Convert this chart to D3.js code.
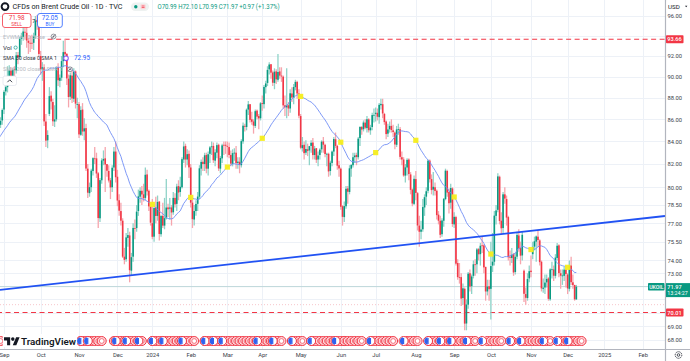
<!DOCTYPE html>
<html><head><meta charset="utf-8">
<script src="https://cdn.jsdelivr.net/npm/d3@7"></script>
<style>
html,body{margin:0;padding:0;background:#fff;overflow:hidden;}
svg{display:block;font-family:Roboto,"Noto Sans",Arial,sans-serif;}
</style></head><body>
<svg id="c" width="690" height="361"></svg>
<script>
// ---------------- DATA ----------------
// closes before the visible window (Jul 17 – Aug 29, 2023), used only for the SMA 30
const warmupCloses = [78.50,79.63,79.46,79.64,81.07,82.74,83.64,82.92,84.24,84.99,85.56,
  84.91,83.20,85.14,86.24,85.34,86.17,87.55,86.40,86.81,86.21,84.89,83.45,84.12,84.80,
  84.46,84.03,83.21,83.36,84.48,84.42,85.49];
// daily [open, high, low, close] per month
const aug2023 = [[85.5,86.2,85.2,85.86],[85.9,87.0,85.5,86.86]];
const sep2023 = [[86.9,88.7,86.5,88.55],[88.6,89.3,88.2,89.00],[89.0,91.0,88.5,90.04],[90.0,91.1,89.6,90.60],[90.6,90.9,89.2,89.92],
  [89.9,90.8,89.4,90.65],[90.7,91.0,89.8,90.64],[90.6,92.4,90.3,92.06],[92.1,92.4,91.2,91.88],[91.9,93.9,91.7,93.70],
  [93.7,94.3,93.1,93.93],[93.9,95.0,93.5,94.43],[94.4,95.3,93.6,94.34],[94.3,94.9,92.8,93.53],[93.5,93.8,92.2,93.30],
  [93.3,94.0,92.4,93.27],[93.3,94.1,92.7,93.29],[93.3,94.3,92.6,93.96],[94.0,96.0,93.7,95.55],[95.6,96.1,94.6,95.38],
  [95.4,95.6,92.0,92.20]];
const oct2023 = [[92.0,92.5,90.2,90.71],[90.7,91.4,89.6,90.92],[90.9,91.2,85.4,85.81],[85.8,86.5,83.5,84.07],[84.1,85.0,83.4,84.58],
  [86.5,89.0,86.3,88.15],[88.2,88.6,86.9,87.65],[87.6,87.9,85.4,85.82],[85.8,87.3,85.3,86.00],[86.0,91.0,85.8,90.89],
  [90.9,91.3,89.1,89.65],[89.6,90.2,89.0,89.90],[89.9,92.0,89.6,91.50],[91.5,93.5,90.9,92.38],[92.4,93.66,91.7,92.16],
  [92.2,92.3,89.2,89.83],[89.8,90.2,87.1,88.07],[88.1,90.4,87.8,90.13],[90.1,90.6,87.5,87.93],[87.9,90.8,87.6,90.48],
  [90.5,90.6,87.0,87.45],[87.4,88.0,86.1,87.41]];
const nov2023 = [[87.4,87.6,84.3,84.63],[84.6,87.2,84.5,86.85],[86.9,87.5,84.5,84.89],[84.9,86.1,84.1,85.18],[85.2,85.6,81.4,81.61],
  [81.6,82.0,79.1,79.54],[79.5,80.4,79.2,80.01],[80.0,81.6,79.6,81.43],[81.4,82.6,81.0,82.52],[82.5,83.5,82.0,82.47],
  [82.5,83.0,80.8,81.18],[81.2,81.3,76.6,77.42],[77.4,80.8,77.1,80.61],[80.6,82.5,80.3,82.32],[82.3,83.2,81.9,82.45],
  [82.5,83.5,79.6,81.96],[82.0,82.0,80.9,81.42],[81.4,81.9,80.4,80.58],[80.6,80.8,79.0,79.98],[80.0,81.9,79.6,81.68],
  [81.7,83.5,81.4,83.10],[83.1,84.0,80.4,80.86]];
const dec2023 = [[80.9,81.5,78.4,78.88],[78.9,79.4,77.6,78.03],[78.0,78.7,76.8,77.20],[77.2,77.4,74.2,74.30],[74.3,75.0,73.7,74.05],
  [74.1,76.2,73.9,75.84],[75.8,76.6,75.1,76.03],[76.0,76.3,72.3,73.24],[73.2,74.6,72.8,74.26],[74.3,77.0,73.9,76.61],
  [76.6,77.3,75.7,76.55],[76.6,78.5,76.3,77.95],[78.0,79.8,77.6,79.23],[79.2,80.0,78.7,79.70],[79.7,80.1,78.5,79.39],
  [79.4,80.3,78.8,79.07],[79.1,81.7,78.9,81.07],[81.1,81.5,79.3,79.65],[79.7,79.8,78.0,78.39],[78.4,78.7,76.8,77.04]];
const jan2024 = [[77.0,79.0,75.7,75.89],[75.9,78.6,75.5,78.25],[78.3,79.2,77.0,77.59],[77.6,79.3,77.2,78.76],[78.8,78.8,75.6,76.12],
  [76.1,77.7,75.9,77.59],[77.6,78.7,76.6,76.80],[76.8,79.1,76.5,77.41],[77.4,80.7,77.3,78.29],[78.3,78.6,77.5,78.15],
  [78.2,79.1,77.3,78.29],[78.3,78.5,76.8,77.88],[77.9,79.6,77.7,79.10],[79.1,79.5,78.3,78.56],[78.6,80.3,78.0,80.06],
  [80.1,80.6,78.9,79.55],[79.6,80.9,79.2,80.04],[80.0,82.6,79.9,82.43],[82.4,84.0,82.1,83.55],[83.6,83.8,81.7,82.40],
  [82.4,83.3,81.9,82.87],[82.9,83.2,80.8,81.71]];
const feb2024 = [[81.7,82.0,78.3,78.70],[78.7,79.3,76.6,77.33],[77.3,78.5,76.8,78.00],[78.0,78.9,77.6,78.59],[78.6,79.6,78.0,79.21],
  [79.2,81.9,79.0,81.63],[81.6,82.4,81.0,82.19],[82.2,82.6,81.4,82.00],[82.0,83.0,81.4,82.77],[82.8,83.0,81.2,81.60],
  [81.6,83.1,81.0,82.86],[82.9,83.6,82.1,83.47],[83.5,84.0,82.8,83.56],[83.6,83.9,82.1,82.34],[82.3,83.3,81.8,83.03],
  [83.0,83.9,82.5,83.67],[83.7,83.8,81.4,81.62],[81.6,82.7,81.2,82.53],[82.5,83.8,82.1,83.65],[83.7,84.0,82.8,83.68],
  [83.7,84.0,82.9,83.62]];
const mar2024 = [[83.6,84.0,82.6,83.55],[83.5,83.9,82.5,82.80],[82.8,83.2,81.8,82.04],[82.0,83.3,81.8,82.96],[83.0,83.4,82.3,83.00],
  [83.0,83.6,81.6,82.08],[82.1,82.6,81.6,82.21],[82.2,82.6,81.2,81.92],[81.9,84.2,81.7,84.03],[84.0,85.7,83.8,85.42],
  [85.4,85.6,84.9,85.34],[85.3,87.0,85.0,86.89],[86.9,87.7,86.4,87.38],[87.4,87.4,85.7,85.95],[86.0,86.7,85.5,85.78],
  [85.8,86.0,84.7,85.43],[85.4,86.9,85.2,86.75],[86.8,86.9,86.0,86.25],[86.3,86.5,85.1,86.09],[86.1,87.6,85.9,87.48]];
const apr2024 = [[87.5,88.2,86.8,87.42],[87.4,89.2,87.0,89.02],[89.0,89.6,88.4,89.35],[89.4,91.0,89.1,90.65],[90.7,91.4,90.2,91.17],
  [91.2,91.2,89.8,90.38],[90.4,90.6,89.1,89.42],[89.4,90.8,88.8,90.48],[90.5,90.7,89.3,89.74],[89.7,92.2,89.5,90.45],
  [90.5,90.9,89.8,90.10],[90.1,90.9,89.5,90.02],[90.0,90.1,87.0,87.29],[87.3,88.2,86.3,87.11],[87.1,90.8,86.1,87.29],
  [87.3,87.6,86.3,87.00],[87.0,88.8,86.6,88.42],[88.4,89.0,87.6,88.02],[88.0,89.3,87.4,89.01],[89.0,89.7,88.7,89.50],
  [89.5,89.6,87.9,88.40],[88.4,88.8,86.1,86.33]];
const may2024 = [[86.3,86.5,83.3,83.44],[83.4,84.4,83.1,83.67],[83.7,84.0,82.4,82.96],[83.0,84.1,82.8,83.33],[83.3,83.8,82.7,83.16],
  [83.2,83.6,81.9,83.58],[83.6,84.1,83.0,83.88],[83.9,84.3,82.4,82.79],[82.8,83.6,82.4,83.36],[83.4,83.4,82.1,82.38],
  [82.4,83.1,81.8,82.75],[82.8,83.4,82.4,83.27],[83.3,84.1,83.0,83.98],[84.0,84.4,83.0,83.71],[83.7,83.8,82.6,82.88],
  [82.9,83.0,81.8,82.90],[82.9,83.0,80.9,81.36],[81.4,82.3,81.0,82.12],[82.1,83.2,81.8,83.10],[83.1,84.4,82.7,84.22],
  [84.2,84.8,83.4,83.60],[83.6,83.7,81.5,81.86],[81.9,82.3,80.9,81.62]];
const jun2024 = [[81.6,81.7,78.1,78.36],[78.4,78.5,76.8,77.52],[77.5,78.8,77.1,78.41],[78.4,80.1,78.2,79.87],[79.9,80.1,78.6,79.62],
  [79.6,81.9,79.4,81.63],[81.6,82.0,80.9,81.92],[81.9,83.0,81.7,82.60],[82.6,83.0,82.1,82.75],[82.8,83.0,81.9,82.62],
  [82.6,84.4,82.4,84.25],[84.3,85.3,83.6,85.33],[85.3,85.4,84.6,85.07],[85.1,85.9,84.9,85.71],[85.7,86.0,85.1,85.24],
  [85.2,86.3,84.8,86.01],[86.0,86.1,84.8,85.01],[85.0,85.5,84.6,85.25],[85.3,86.6,85.0,86.39],[86.4,87.0,85.7,86.41]];
const jul2024 = [[86.5,87.1,85.8,86.60],[86.6,87.0,85.9,86.24],[86.2,87.5,85.6,87.34],[87.3,87.9,86.9,87.43],[87.4,87.9,86.1,86.54],
  [86.5,86.6,85.5,85.75],[85.8,85.9,84.2,84.66],[84.7,85.6,84.4,85.08],[85.1,85.8,84.8,85.40],[85.4,86.0,84.8,85.03],
  [85.0,85.5,84.4,84.85],[84.8,84.9,83.3,83.73],[83.7,85.4,83.5,85.08],[85.1,85.6,84.6,85.11],[85.1,85.3,82.4,82.63],
  [82.6,83.1,81.9,82.40],[82.4,82.6,80.9,81.01],[81.0,82.0,80.4,81.71],[81.7,82.5,81.0,82.37],[82.4,82.5,80.6,81.13],
  [81.1,81.3,79.4,79.78],[79.8,79.9,78.4,78.63],[78.6,81.0,78.5,80.72]];
const aug2024 = [[80.7,81.4,78.9,79.52],[79.5,79.6,76.4,76.81],[76.8,77.6,75.1,76.30],[76.3,77.2,75.7,76.48],[76.5,79.0,76.3,78.33],
  [78.3,79.4,77.6,79.16],[79.2,80.0,78.5,79.66],[79.7,82.4,79.5,82.30],[82.3,82.4,80.4,80.69],[80.7,81.1,79.4,79.76],
  [79.8,81.3,79.3,80.04],[80.0,80.4,79.3,79.68],[79.7,79.8,77.3,77.66],[77.7,78.0,76.9,77.20],[77.2,77.6,75.8,76.05],
  [76.1,77.4,75.9,77.22],[77.2,79.1,76.7,79.02],[79.0,81.6,78.9,81.43],[81.4,81.5,79.2,79.55],[79.6,79.9,77.8,78.65],
  [78.7,80.3,78.2,79.94],[79.9,80.0,76.7,76.93]];
const sep2024 = [[76.9,77.9,76.6,77.52],[77.5,77.6,73.6,73.75],[73.8,74.1,72.5,72.70],[72.7,73.8,72.2,72.69],[72.7,73.0,70.5,71.06],
  [71.1,72.2,70.6,71.84],[71.8,71.9,68.7,69.19],[69.2,71.0,68.7,70.61],[70.6,73.1,70.3,72.97],[73.0,73.3,71.6,71.97],
  [72.0,72.9,71.4,72.75],[72.8,74.0,72.6,73.70],[73.7,74.1,72.8,73.65],[73.7,75.0,73.0,74.88],[74.9,75.0,74.0,74.49],
  [74.5,75.4,73.6,75.17],[75.2,75.9,74.6,75.17],[75.2,75.3,73.0,73.46],[73.5,73.5,70.9,71.60],[71.6,72.5,71.3,71.98],
  [72.0,72.5,70.9,71.77]];
const oct2024 = [[71.8,75.5,69.5,73.56],[73.6,76.2,73.1,73.90],[73.9,78.0,73.6,77.62],[77.6,78.5,76.9,78.05],[78.1,81.2,77.9,80.93],
  [80.9,81.0,76.9,77.18],[77.2,77.9,76.1,76.58],[76.6,79.6,76.2,79.40],[79.4,80.0,78.6,79.04],[79.0,79.3,76.8,77.46],
  [77.5,77.6,74.0,74.25],[74.3,74.8,73.6,74.22],[74.2,75.0,73.8,74.45],[74.5,74.6,72.8,73.06],[73.1,74.6,72.9,74.29],
  [74.3,76.3,74.1,76.04],[76.0,76.5,74.7,74.96],[75.0,75.5,73.7,74.38],[74.4,76.3,74.0,76.05],[73.2,73.3,70.8,71.42],
  [71.4,71.9,70.6,71.12],[71.1,73.0,70.9,72.55],[72.6,73.6,72.3,73.16]];
const nov2024 = [[73.2,74.4,72.7,73.10],[74.5,75.5,74.1,75.08],[75.1,75.9,74.8,75.53],[75.5,76.0,73.9,75.92],[75.9,76.4,75.1,75.63],
  [75.6,75.7,73.6,73.87],[73.9,74.0,71.6,71.83],[71.8,72.6,71.5,71.89],[71.9,72.9,71.4,72.28],[72.3,72.9,71.9,72.56],
  [72.6,72.7,70.9,71.04],[71.0,73.4,70.9,73.30],[73.3,73.9,72.6,73.31],[73.3,73.6,72.4,72.81],[72.8,74.5,72.6,74.23],
  [74.2,75.4,74.0,75.17],[75.2,75.3,72.7,73.01],[73.0,73.3,71.8,72.81],[72.8,73.3,72.1,72.83],[72.8,73.5,72.4,73.28],
  [73.3,73.5,71.9,72.94]];
const dec2024 = [[72.9,73.0,71.4,71.83],[71.8,74.0,71.6,73.62],[73.6,74.3,72.1,72.31],[72.3,72.9,71.8,72.09],[72.1,72.1,70.9,71.00],
  [70.99,72.10,70.99,71.97]];
const monthBlocks = [aug2023,sep2023,oct2023,nov2023,dec2023,jan2024,feb2024,mar2024,apr2024,may2024,jun2024,
  jul2024,aug2024,sep2024,oct2024,nov2024,dec2024];

const holidays = ["2023-12-25","2024-01-01","2024-03-29","2024-12-25","2025-01-01"];
const labelMonths = ["2023-09","2023-10","2023-11","2023-12","2024-01","2024-02","2024-03","2024-04","2024-05","2024-06",
  "2024-07","2024-08","2024-09","2024-10","2024-11","2024-12","2025-01","2025-02"];
const monthLabels = ["Sep","Oct","Nov","Dec","2024","Feb","Mar","Apr","May","Jun","Jul","Aug","Sep","Oct","Nov","Dec","2025","Feb"];
const markerMonths = ["2024-01","2024-02","2024-03","2024-04","2024-05","2024-06","2024-07","2024-08","2024-09","2024-10","2024-11","2024-12"];
const priceTicks = [96,94,92,90,88,86,84,82,80,78.5,77,75.5,74,73,72,71,70,69,68];
const hiddenTickLabels = [94,72,71,70];
const lastPrice = 71.97, sellPrice = 71.98, buyPrice = 72.05, smaLast = 72.95, dotLinePrice = 70.6;
const hLines = [{price:93.66, fromBar:25},{price:70.01, fromBar:-4}];
const trendAnchors = [{bar:-2.3, price:71.72},{bar:378.8, price:77.59}];
const eventClusters = [[-2,-2],[44,57],[63,79],[85,110],[115,160],[165,172],[177,196],[195,206],[211,224],[231,238],[244,270],[277,286],[291,292],[297,313],[319,331]];
const flagBars = [44,48,64,70,77,85,91,102,115,120,125,145,154,165,176,190,210,229,243,250,256,265,274,290,296,309,317,323];

// ---------------- CALENDAR ----------------
const fmt = d3.utcFormat("%Y-%m-%d");
const days = d3.utcDay.range(new Date(Date.UTC(2023,6,17)), new Date(Date.UTC(2025,2,1)))
  .filter(d => d.getUTCDay()!==0 && d.getUTCDay()!==6 && !holidays.includes(fmt(d)));
const base = days.findIndex(d => fmt(d)==="2023-09-01");
const firstIdx = m => days.findIndex(d => fmt(d).startsWith(m)) - base;

const rows = monthBlocks.flat();
const start = warmupCloses.length;
const bars = rows.map((r,j)=>({i:start+j-base, o:r[0], h:r[1], l:r[2], c:r[3]}));
const allCloses = warmupCloses.concat(rows.map(r=>r[3]));
const sma = [];
allCloses.forEach((c,k)=>{ if(k>=29){ sma.push({i:k-base, v:d3.mean(allCloses.slice(k-29,k+1))}); } });
const smaVisible = sma.filter(s => s.i >= -4);
const smaAt = i => (sma.find(s=>s.i===i)||{}).v;

// ---------------- SCALES ----------------
const W=690, H=361, PR=665, PB=349;
const x = d3.scaleLinear().domain([0,100]).range([4,178.5]);
const y = d3.scaleLog().domain([68,92]).range([339.9,56]);

const svg = d3.select("#c");
svg.append("defs").append("clipPath").attr("id","plot").append("rect").attr("x",0).attr("y",0).attr("width",PR).attr("height",PB);
const plot = svg.append("g").attr("clip-path","url(#plot)");

// grid
plot.append("g").selectAll("line").data(priceTicks).join("line")
  .attr("x1",0).attr("x2",PR).attr("y1",d=>Math.round(y(d))+0.5).attr("y2",d=>Math.round(y(d))+0.5)
  .attr("stroke","#edf1f7").attr("stroke-width",1);
const monthTicks = labelMonths.map((m,k)=>({bar:firstIdx(m), label:monthLabels[k]}));
plot.append("g").selectAll("line").data(monthTicks).join("line")
  .attr("x1",d=>Math.round(x(d.bar))+0.5).attr("x2",d=>Math.round(x(d.bar))+0.5).attr("y1",0).attr("y2",PB)
  .attr("stroke","#edf1f7").attr("stroke-width",1);

// reference lines
plot.append("line").attr("x1",0).attr("x2",PR).attr("y1",y(dotLinePrice)).attr("y2",y(dotLinePrice))
  .attr("stroke","#f5b8be").attr("stroke-width",0.8).attr("stroke-dasharray","1,2");
plot.append("line").attr("x1",0).attr("x2",PR).attr("y1",y(lastPrice)).attr("y2",y(lastPrice))
  .attr("stroke","#b9d4d6").attr("stroke-width",0.9);
plot.append("g").selectAll("line").data(hLines).join("line")
  .attr("x1",d=>x(d.fromBar)).attr("x2",PR).attr("y1",d=>y(d.price)).attr("y2",d=>y(d.price))
  .attr("stroke","#f23645").attr("stroke-width",1.1).attr("stroke-dasharray","5,3.5");

// candles
const UP="#089981", DN="#f23645", UPP="#8fd3c8", DNP="#f6a5ad";
plot.append("g").selectAll("line").data(bars).join("line")
  .attr("x1",d=>x(d.i)).attr("x2",d=>x(d.i)).attr("y1",d=>y(d.h)).attr("y2",d=>y(d.l))
  .attr("stroke",d=>d.c>=d.o?UPP:DNP).attr("stroke-width",1.3);
const bw=1.6;
plot.append("g").selectAll("rect").data(bars).join("rect")
  .attr("x",d=>x(d.i)-bw/2).attr("width",bw)
  .attr("y",d=>y(Math.max(d.o,d.c))).attr("height",d=>Math.max(0.8,Math.abs(y(d.o)-y(d.c))))
  .attr("fill",d=>d.c>=d.o?UP:DN);

// SMA 30
plot.append("path").datum(smaVisible)
  .attr("d", d3.line().x(d=>x(d.i)).y(d=>y(d.v)))
  .attr("fill","none").attr("stroke","#6f8df5").attr("stroke-width",0.9);

// trend line
plot.append("line").attr("x1",x(trendAnchors[0].bar)).attr("y1",y(trendAnchors[0].price))
  .attr("x2",x(trendAnchors[1].bar)).attr("y2",y(trendAnchors[1].price))
  .attr("stroke","#2152f3").attr("stroke-width",1.8);

// monthly markers
const markers = markerMonths.map(m=>{const i=firstIdx(m); return {i, v:smaAt(i)};});
plot.append("g").selectAll("rect").data(markers).join("rect")
  .attr("x",d=>x(d.i)-2.6).attr("y",d=>y(d.v)-2.6).attr("width",5.2).attr("height",5.2)
  .attr("fill","#f7ee1b").attr("opacity",0.95);

// events row
const events = [];
eventClusters.forEach(([a,b])=>{ for(let k=a;k<=b;k+=2) events.push(k); });
const eg = svg.append("g");
eg.selectAll("g").data(events).join("g").attr("transform",d=>`translate(${x(d)},341)`)
  .each(function(){
    const g=d3.select(this);
    g.append("circle").attr("r",4.5).attr("fill","#fcd9dd").attr("stroke","#f23645").attr("stroke-width",1);
    g.append("circle").attr("r",2.4).attr("fill","#fff").attr("stroke","#f25563").attr("stroke-width",0.8);
  });
eg.append("g").selectAll("g").data(flagBars).join("g").attr("transform",d=>`translate(${x(d)},341)`)
  .each(function(){
    const g=d3.select(this);
    g.append("circle").attr("r",4.5).attr("fill","#fff").attr("stroke","#f23645").attr("stroke-width",1);
    g.append("path").attr("d",d3.arc()({innerRadius:0,outerRadius:3.7,startAngle:-Math.PI*0.95,endAngle:-Math.PI*0.05}))
      .attr("fill","#2f62ee");
    g.append("rect").attr("x",-0.6).attr("y",-3).attr("width",1.2).attr("height",6).attr("fill","#2f62ee");
  });

// TradingView logo
const logo = svg.append("g");
logo.append("rect").attr("x",3).attr("y",334).attr("width",74).attr("height",13).attr("fill","#fff");
logo.append("path").attr("transform","translate(4,335.6) scale(0.44)")
  .attr("d","M14 22H7V11H0V4h14v18zM28 22h-8l7.5-18h8L28 22z").attr("fill","#131722");
logo.append("circle").attr("cx",4+20*0.44).attr("cy",335.6+8*0.44).attr("r",4*0.44).attr("fill","#131722");
logo.append("text").attr("x",21).attr("y",344.8).attr("font-size",9.6).attr("font-weight",600)
  .attr("fill","#131722").attr("textLength",55).attr("lengthAdjust","spacingAndGlyphs").text("TradingView");

// ---------------- AXES ----------------
svg.append("rect").attr("x",PR).attr("y",0).attr("width",W-PR).attr("height",H).attr("fill","#fff");
svg.append("rect").attr("x",0).attr("y",PB).attr("width",W).attr("height",H-PB).attr("fill","#fff");
svg.append("line").attr("x1",PR+0.5).attr("x2",PR+0.5).attr("y1",0).attr("y2",H).attr("stroke","#b2b5be").attr("stroke-width",1.2);
svg.append("line").attr("x1",0).attr("x2",W).attr("y1",PB+0.5).attr("y2",PB+0.5).attr("stroke","#b2b5be").attr("stroke-width",1.2);

const yAxis = d3.axisRight(y).tickValues(priceTicks.filter(t=>!hiddenTickLabels.includes(t)))
  .tickFormat(d3.format(".2f")).tickSize(0).tickPadding(0);
const ya = svg.append("g").attr("transform",`translate(${PR+2.5},0)`).call(yAxis);
ya.select(".domain").remove();
ya.selectAll("text").attr("font-size",5.8).attr("fill","#3a3e49").attr("font-family","Roboto,Arial,sans-serif");

const xAxis = d3.axisBottom(x).tickValues(monthTicks.map(d=>d.bar))
  .tickFormat((d,k)=>monthTicks[k].label).tickSize(0).tickPadding(0);
const xa = svg.append("g").attr("transform",`translate(0,${PB+4})`).call(xAxis);
xa.select(".domain").remove();
xa.selectAll("text").attr("font-size",5.8).attr("fill","#3a3e49").attr("font-family","Roboto,Arial,sans-serif");

// price labels on axis
function priceTag(p, color, txt){
  const yy = y(p);
  svg.append("rect").attr("x",PR+1).attr("y",yy-4).attr("width",17.5).attr("height",8).attr("fill",color).attr("rx",0.8);
  svg.append("text").attr("x",PR+2.3).attr("y",yy+2).attr("font-size",5.6).attr("fill","#fff").attr("font-weight",500).text(txt);
}
priceTag(93.66,"#f23645","93.66");
priceTag(70.01,"#f23645","70.01");
{
  const yy=y(lastPrice);
  svg.append("rect").attr("x",PR+1).attr("y",yy-3.5).attr("width",W-PR-1).attr("height",14).attr("fill","#089981");
  svg.append("text").attr("x",PR+2.3).attr("y",yy+2.3).attr("font-size",5.6).attr("fill","#fff").attr("font-weight",500).text(lastPrice.toFixed(2));
  svg.append("text").attr("x",PR+2.3).attr("y",yy+8.8).attr("font-size",5.3).attr("fill","#fff").text("13:24:27");
  svg.append("rect").attr("x",PR-17).attr("y",yy-3.5).attr("width",16.5).attr("height",7.5).attr("fill","#089981").attr("rx",0.8);
  svg.append("text").attr("x",PR-15.8).attr("y",yy+2.1).attr("font-size",5.2).attr("fill","#fff").attr("font-weight",500).text("UKOIL");
}
// USD box
svg.append("rect").attr("x",PR+1.5).attr("y",1.5).attr("width",22).attr("height",10).attr("fill","#fff");
svg.append("text").attr("x",PR+3).attr("y",8.6).attr("font-size",6.2).attr("fill","#131722").text("USD");
svg.append("path").attr("d",`M${PR+20},5.8 l2.4,0 l-1.2,1.5z`).attr("fill","#131722");
// gear
const gear = svg.append("g").attr("transform","translate(678.5,355)");
gear.append("circle").attr("r",3.3).attr("fill","none").attr("stroke","#2a2e39").attr("stroke-width",0.9).attr("stroke-dasharray","1.3,0.7");
gear.append("circle").attr("r",1.3).attr("fill","none").attr("stroke","#2a2e39").attr("stroke-width",0.8);

// ---------------- HEADER / LEGEND ----------------
const hd = svg.append("g").attr("font-family","Roboto,Arial,sans-serif");
hd.append("circle").attr("cx",5).attr("cy",6.6).attr("r",3.4).attr("fill","#fff").attr("stroke","#131722").attr("stroke-width",1.9);
hd.append("text").attr("x",12.5).attr("y",9.2).attr("font-size",7).attr("fill","#131722")
  .attr("textLength",110).attr("lengthAdjust","spacingAndGlyphs").text("CFDs on Brent Crude Oil · 1D · TVC");
hd.append("rect").attr("x",131).attr("y",2.5).attr("width",18).attr("height",8.4).attr("rx",4.2).attr("fill","#eef2f1");
hd.append("circle").attr("cx",135.8).attr("cy",6.7).attr("r",1.7).attr("fill","#089981");
hd.append("rect").attr("x",140.5).attr("y",4.2).attr("width",5.2).attr("height",5).attr("rx",1).attr("fill","#fbd5d9");
hd.append("path").attr("d","M141.7,6 h2.8 M141.7,7.5 h2.8").attr("stroke","#f23645").attr("stroke-width",0.7);
hd.append("text").attr("x",157.5).attr("y",9.2).attr("font-size",7).attr("fill","#089981")
  .attr("textLength",122).attr("lengthAdjust","spacingAndGlyphs").text("O70.99 H72.10 L70.99 C71.97 +0.97 (+1.37%)");

// sell / buy
hd.append("rect").attr("x",2.5).attr("y",13.5).attr("width",28.5).attr("height",14).attr("rx",2.5).attr("fill","#fff").attr("stroke","#f23645").attr("stroke-width",0.8);
hd.append("text").attr("x",16.7).attr("y",20.3).attr("text-anchor","middle").attr("font-size",6.4).attr("fill","#f23645").text(sellPrice.toFixed(2));
hd.append("text").attr("x",16.7).attr("y",26.1).attr("text-anchor","middle").attr("font-size",4.8).attr("fill","#f23645").text("SELL");
hd.append("text").attr("x",32.2).attr("y",22.5).attr("font-size",5.5).attr("fill","#131722").text("7");
hd.append("rect").attr("x",37.5).attr("y",13.5).attr("width",24.8).attr("height",14).attr("rx",2.5).attr("fill","#fff").attr("stroke","#2962ff").attr("stroke-width",0.8);
hd.append("text").attr("x",49.9).attr("y",20.3).attr("text-anchor","middle").attr("font-size",6.4).attr("fill","#2962ff").text(buyPrice.toFixed(2));
hd.append("text").attr("x",49.9).attr("y",26.1).attr("text-anchor","middle").attr("font-size",4.8).attr("fill","#2962ff").text("BUY");

function eyeOff(cx,cy){
  hd.append("circle").attr("cx",cx).attr("cy",cy).attr("r",2.4).attr("fill","rgba(255,255,255,0.7)").attr("stroke","#6a6d78").attr("stroke-width",0.7);
  hd.append("circle").attr("cx",cx).attr("cy",cy).attr("r",0.9).attr("fill","#6a6d78");
  hd.append("line").attr("x1",cx-2.2).attr("y1",cy+2.2).attr("x2",cx+2.2).attr("y2",cy-2.2).attr("stroke","#6a6d78").attr("stroke-width",0.6);
}
hd.append("text").attr("x",3).attr("y",38.6).attr("font-size",6.2).attr("fill","#b7bac2")
  .attr("textLength",42).attr("lengthAdjust","spacingAndGlyphs").text("EVWMA 10 close");
eyeOff(53.5,36.5);
hd.append("text").attr("x",3).attr("y",49.6).attr("font-size",6.2).attr("fill","#2a2e39").text("Vol");
hd.append("circle").attr("cx",15.6).attr("cy",47.6).attr("r",1.6).attr("fill","none").attr("stroke","#26a69a").attr("stroke-width",0.8);
hd.append("text").attr("x",3).attr("y",60.4).attr("font-size",6.2).attr("fill","#2a2e39")
  .attr("textLength",54).attr("lengthAdjust","spacingAndGlyphs").text("SMA 30 close 0 SMA 1");
hd.append("circle").attr("cx",66).attr("cy",58.3).attr("r",2.3).attr("fill","#fff").attr("stroke","#8b5cf6").attr("stroke-width",1.1);
hd.append("text").attr("x",74).attr("y",60.4).attr("font-size",6.4).attr("fill","#2962ff").text(smaLast.toFixed(2));
hd.append("text").attr("x",3).attr("y",71.4).attr("font-size",6.2).attr("fill","#b7bac2")
  .attr("textLength",60).attr("lengthAdjust","spacingAndGlyphs").text("SMA 200 close 0 SMA 1");
eyeOff(70,69.3);
hd.append("rect").attr("x",3).attr("y",76).attr("width",13.5).attr("height",9.5).attr("rx",2).attr("fill","#fff").attr("stroke","#e0e3eb").attr("stroke-width",0.7);
hd.append("path").attr("d","M7.4,82.2 L9.75,79.8 L12.1,82.2").attr("fill","none").attr("stroke","#131722").attr("stroke-width",0.8);
</script>
</body></html>
